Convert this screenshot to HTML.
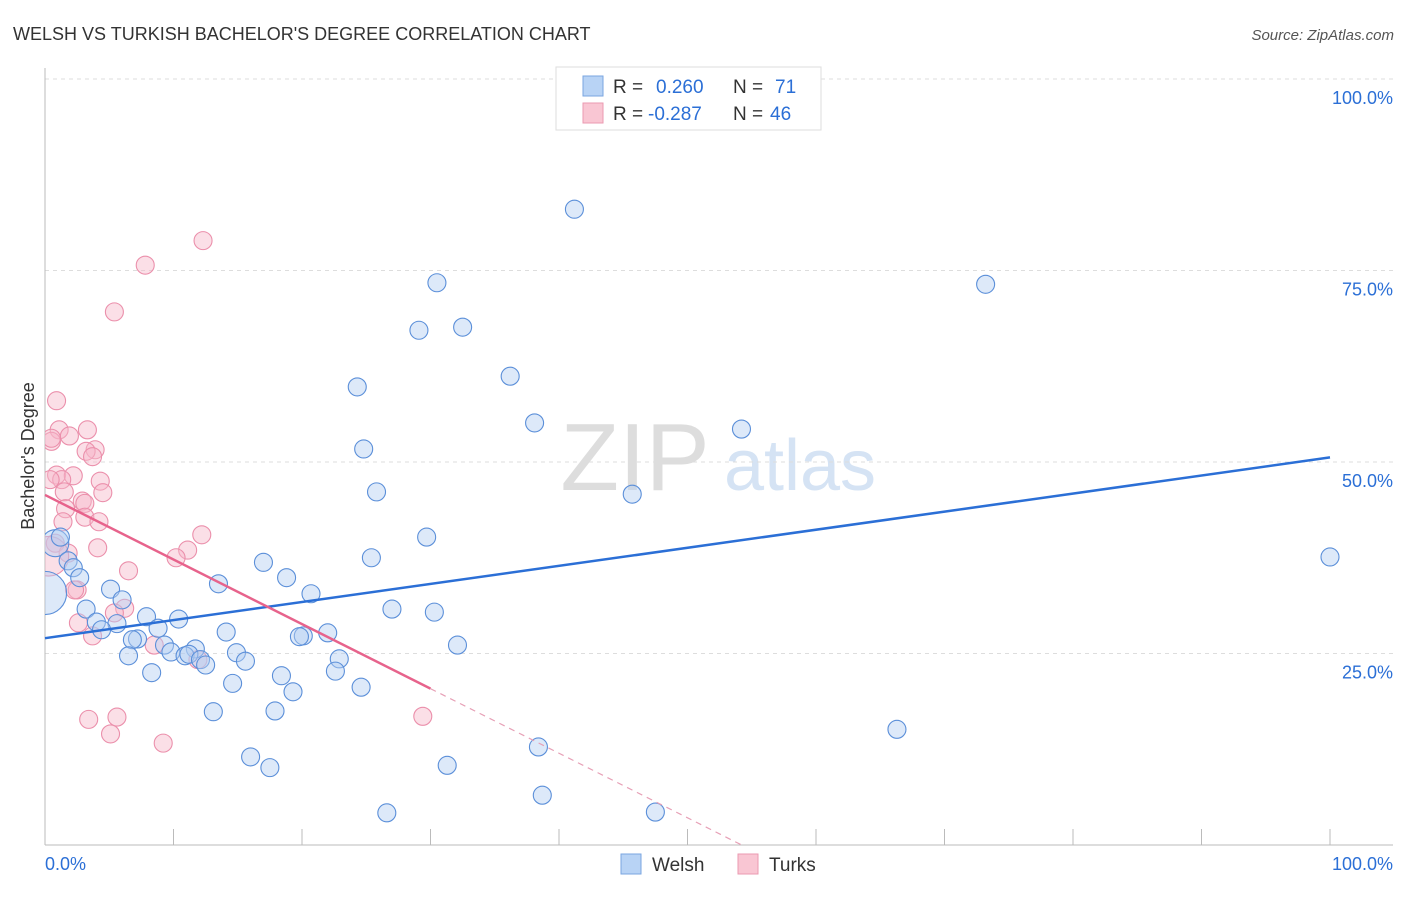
<!DOCTYPE html>
<html><head><meta charset="utf-8"><style>
body{margin:0;background:#fff;font-family:"Liberation Sans",sans-serif}
svg text{font-family:"Liberation Sans",sans-serif}
</style></head><body>
<svg id="chart" width="1406" height="892" xmlns="http://www.w3.org/2000/svg">
<defs><clipPath id="plotclip"><rect x="45" y="60" width="1360" height="790"/></clipPath></defs>
<text x="13" y="40" font-size="18" fill="#333">WELSH VS TURKISH BACHELOR'S DEGREE CORRELATION CHART</text>
<text x="1394" y="40" font-size="15" fill="#555" font-style="italic" text-anchor="end">Source: ZipAtlas.com</text>
<g>
<text x="635" y="490" font-size="96" fill="#ddd" font-family="Liberation Serif,serif" text-anchor="middle">ZIP</text>
<text x="800" y="490" font-size="72" fill="#d5e3f4" text-anchor="middle">atlas</text>
</g>
<g id="grid"></g>
<g id="axes"></g>
<g id="points" clip-path="url(#plotclip)"></g>
<g id="trends"></g>
<g>
<rect x="556" y="67" width="265" height="63" fill="#fff" stroke="#ddd"/>
<rect x="583" y="76" width="20" height="20" fill="#b8d3f5" stroke="#7aa6e0"/>
<rect x="583" y="103" width="20" height="20" fill="#f9c6d3" stroke="#eb9ab0"/>
<text y="93" font-size="19" fill="#333"><tspan x="613">R =</tspan><tspan x="656" fill="#2b6fd6">0.260</tspan><tspan x="733">N =</tspan><tspan x="775" fill="#2b6fd6">71</tspan></text>
<text y="120" font-size="19" fill="#333"><tspan x="613">R =</tspan><tspan x="648" fill="#2b6fd6">-0.287</tspan><tspan x="733">N =</tspan><tspan x="770" fill="#2b6fd6">46</tspan></text>
</g>
<g>
<rect x="621" y="854" width="20" height="20" fill="#b8d3f5" stroke="#7aa6e0"/>
<text x="652" y="871" font-size="19" fill="#333">Welsh</text>
<rect x="738" y="854" width="20" height="20" fill="#f9c6d3" stroke="#eb9ab0"/>
<text x="769" y="871" font-size="19" fill="#333">Turks</text>
</g>
<text transform="translate(34,456) rotate(-90)" font-size="18" fill="#333" text-anchor="middle">Bachelor's Degree</text>
</svg>
<script>
const yTicks=[25,50,75,100];
const yTickLabels=["25.0%","50.0%","75.0%","100.0%"];
const xTickLabels=["0.0%","100.0%"];
const welshX=[41.2,30.5,73.2,29.1,32.5,36.2,24.3,38.1,54.2,24.8,25.8,45.7,29.7,0.8,1.2,25.4,17.0,1.8,2.2,2.7,18.8,13.5,5.1,20.7,6.0,27.0,30.3,3.2,7.9,10.4,4.0,5.6,4.4,8.8,14.1,20.1,22.0,19.8,7.2,6.8,9.3,32.1,11.7,9.8,14.9,6.5,10.9,11.2,12.1,12.5,15.6,22.9,22.6,8.3,18.4,19.3,14.6,24.6,13.1,17.9,66.3,38.4,16.0,17.5,31.3,38.7,26.6,47.5,0,100];
const welshY=[83.0,73.4,73.2,67.2,67.6,61.2,59.8,55.1,54.3,51.7,46.1,45.8,40.2,39.4,40.2,37.5,36.9,37.1,36.2,34.9,34.9,34.1,33.4,32.8,32.0,30.8,30.4,30.8,29.8,29.5,29.1,28.9,28.1,28.3,27.8,27.3,27.7,27.2,26.9,26.8,26.1,26.1,25.6,25.2,25.1,24.7,24.7,24.9,24.2,23.5,24.0,24.3,22.7,22.5,22.1,20.0,21.1,20.6,17.4,17.5,15.1,12.8,11.5,10.1,10.4,6.5,4.2,4.3,32.9,37.6];
const welshSize=[1,1,1,1,1,1,1,1,1,1,1,1,1,1.5,1,1,1,1,1,1,1,1,1,1,1,1,1,1,1,1,1,1,1,1,1,1,1,1,1,1,1,1,1,1,1,1,1,1,1,1,1,1,1,1,1,1,1,1,1,1,1,1,1,1,1,1,1,1,2.4,1];
const turksX=[12.3,7.8,5.4,0.9,1.1,3.3,1.9,0.5,0.5,3.9,3.2,3.7,0.9,2.2,1.3,0.4,4.3,1.5,4.5,2.9,3.1,1.6,3.1,4.2,1.4,12.2,0.8,4.1,1.8,11.1,10.2,6.5,2.5,6.2,5.4,2.6,3.7,8.5,11.9,0.3,3.4,5.6,5.1,9.2,29.4,2.3];
const turksY=[78.9,75.7,69.6,58.0,54.2,54.2,53.4,52.7,53.1,51.6,51.4,50.7,48.3,48.2,47.7,47.7,47.5,46.1,46.0,44.9,44.6,43.9,42.8,42.2,42.2,40.5,39.4,38.8,38.1,38.5,37.5,35.8,33.3,30.9,30.3,29.0,27.3,26.1,24.2,37.7,16.4,16.7,14.5,13.3,16.8,33.3];
const turksSize=[1,1,1,1,1,1,1,1,1,1,1,1,1,1,1,1,1,1,1,1,1,1,1,1,1,1,1,1,1,1,1,1,1,1,1,1,1,1,1,2.2,1,1,1,1,1,1];
const welshTrend=[27.0,50.6];
const turksTrend=[45.7,-0.843];
const X0=45,X1=1330,Y0=845,Y1=79;
const sx=v=>X0+(X1-X0)*v/100, sy=v=>Y0-(Y0-Y1)*v/100;
const NS="http://www.w3.org/2000/svg";
function mk(tag,attrs,parent){const e=document.createElementNS(NS,tag);for(const k in attrs)e.setAttribute(k,attrs[k]);parent.appendChild(e);return e;}
const grid=document.getElementById('grid'),axes=document.getElementById('axes'),pts=document.getElementById('points'),tr=document.getElementById('trends');
yTicks.forEach((t,i)=>{
 const l=mk('line',{x1:X0,x2:1393,y1:sy(t),y2:sy(t),stroke:'#ddd','stroke-dasharray':'4,4'},grid);
 
 
 const tx=mk('text',{x:1393,y:sy(t)+25,'font-size':18,fill:'#2b6fd6','text-anchor':'end'},axes);
 tx.textContent=yTickLabels[i];
 
 
});
const ax=mk('line',{x1:X0,x2:1393,y1:Y0,y2:Y0,stroke:'#bbb'},axes);


const ay=mk('line',{x1:X0,x2:X0,y1:68,y2:Y0,stroke:'#bbb'},axes);


for(let i=0;i<=10;i++){const t=mk('line',{x1:sx(i*10),x2:sx(i*10),y1:829,y2:Y0,stroke:'#bbb'},axes);
 
 }
[[0,'start',X0],[1,'end',1393]].forEach(([i,a,x])=>{const t=mk('text',{x:x,y:870,'font-size':18,fill:'#2b6fd6','text-anchor':a},axes);t.textContent=xTickLabels[i];
 
 });
function series(xs,ys,sz,fill,stroke,name){xs.forEach((x,i)=>{const c=mk('circle',{cx:sx(x),cy:sy(ys[i]),r:9*sz[i],fill:fill,'fill-opacity':0.45,stroke:stroke,'stroke-width':1.1},pts);
 
 });}
series(turksX,turksY,turksSize,'#f7b8ca','#eb8fab','turks-point');
series(welshX,welshY,welshSize,'#b4cff2','#5b8fd9','welsh-point');
const bl=mk('line',{x1:sx(0),y1:sy(welshTrend[0]),x2:sx(100),y2:sy(welshTrend[1]),stroke:'#2b6fd6','stroke-width':2.5},tr);


const pe=30,z=-turksTrend[0]/turksTrend[1];
const pl=mk('line',{x1:sx(0),y1:sy(turksTrend[0]),x2:sx(pe),y2:sy(turksTrend[0]+turksTrend[1]*pe),stroke:'#e7638c','stroke-width':2.5},tr);


const pd=mk('line',{x1:sx(pe),y1:sy(turksTrend[0]+turksTrend[1]*pe),x2:sx(z),y2:sy(0),stroke:'#e7a0b6','stroke-width':1.2,'stroke-dasharray':'6,5'},tr);


</script>
</body></html>
